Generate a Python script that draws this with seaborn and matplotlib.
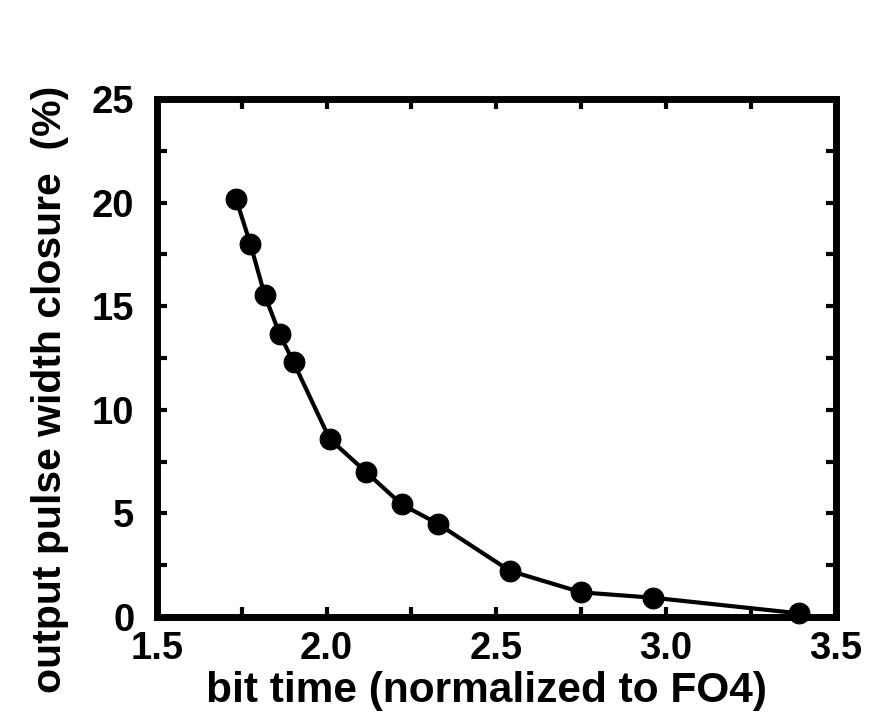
import numpy as np
import pandas as pd
import matplotlib
matplotlib.use('Agg')
import matplotlib.pyplot as plt
import seaborn as sns
from matplotlib.ticker import MultipleLocator, FuncFormatter

# data
bit_time = [1.734, 1.776, 1.818, 1.862, 1.903, 2.009, 2.117, 2.221, 2.327, 2.540, 2.751, 2.963, 3.391]
closure = [20.15, 17.98, 15.53, 13.65, 12.29, 8.60, 6.99, 5.44, 4.51, 2.23, 1.19, 0.93, 0.18]

df = pd.DataFrame({'bit_time': bit_time, 'closure': closure})

sns.set_style('ticks')
plt.rcParams['font.family'] = ['Liberation Sans', 'DejaVu Sans']
plt.rcParams['font.weight'] = 'bold'
plt.rcParams['axes.edgecolor'] = 'black'
plt.rcParams['xtick.color'] = 'black'
plt.rcParams['ytick.color'] = 'black'
plt.rcParams['text.color'] = 'black'
plt.rcParams['axes.labelcolor'] = 'black'

fig = plt.figure(figsize=(8.76, 7.13), dpi=100)
ax = fig.add_axes([0.179, 0.1346, 0.775, 0.7266])

sns.lineplot(data=df, x='bit_time', y='closure', ax=ax, color='black',
             linewidth=3, marker='o', markersize=15, markeredgecolor='black',
             markerfacecolor='black', clip_on=False)

ax.set_xlim(1.5, 3.5)
ax.set_ylim(0, 25)
ax.xaxis.set_major_locator(MultipleLocator(0.25))
ax.yaxis.set_major_locator(MultipleLocator(2.5))
ax.xaxis.set_major_formatter(FuncFormatter(lambda v, p: f'{v:.1f}' if abs(v * 2 - round(v * 2)) < 1e-6 else ''))
ax.yaxis.set_major_formatter(FuncFormatter(lambda v, p: f'{v:.0f}' if abs(v / 5 - round(v / 5)) < 1e-6 else ''))

ax.tick_params(direction='in', length=7, width=3, top=True, right=True,
               labelsize=27.5, colors='black')
ax.tick_params(axis='y', pad=16)
ax.tick_params(axis='x', pad=10)
for lab in ax.get_xticklabels() + ax.get_yticklabels():
    lab.set_fontweight('bold')

for s in ax.spines.values():
    s.set_linewidth(5)
    s.set_color('black')
    s.set_visible(True)

ax.set_xlabel('bit time (normalized to FO4)', fontsize=30.5, fontweight='bold')
ax.set_ylabel('output pulse width closure  (%)', fontsize=29.5, fontweight='bold')
ax.xaxis.set_label_coords(0.485, -0.105)
ax.yaxis.set_label_coords(-0.13, 0.44)

fig.savefig('out.png', dpi=100)
